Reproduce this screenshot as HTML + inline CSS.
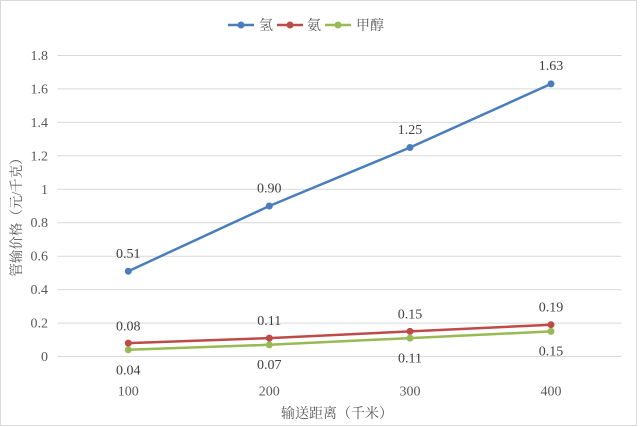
<!DOCTYPE html>
<html><head><meta charset="utf-8"><style>
html,body{margin:0;padding:0;background:#fff;}
svg{display:block;}
</style></head><body>
<svg width="640" height="427" viewBox="0 0 640 427" xmlns="http://www.w3.org/2000/svg">
<rect x="0.5" y="0.5" width="636" height="425" fill="#fff" stroke="#d9d9d9" stroke-width="1"/>
<g stroke="#d9d9d9" stroke-width="1">
<line x1="57.5" y1="55.5" x2="621.5" y2="55.5"/>
<line x1="57.5" y1="88.9" x2="621.5" y2="88.9"/>
<line x1="57.5" y1="122.4" x2="621.5" y2="122.4"/>
<line x1="57.5" y1="155.8" x2="621.5" y2="155.8"/>
<line x1="57.5" y1="189.3" x2="621.5" y2="189.3"/>
<line x1="57.5" y1="222.7" x2="621.5" y2="222.7"/>
<line x1="57.5" y1="256.2" x2="621.5" y2="256.2"/>
<line x1="57.5" y1="289.6" x2="621.5" y2="289.6"/>
<line x1="57.5" y1="323.1" x2="621.5" y2="323.1"/>
<line x1="57.5" y1="356.5" x2="621.5" y2="356.5"/>
</g>
<g font-family="Liberation Serif, serif" font-size="14" fill="#595959" text-anchor="end">
<text x="48" y="60">1.8</text>
<text x="48" y="93.4">1.6</text>
<text x="48" y="126.9">1.4</text>
<text x="48" y="160.3">1.2</text>
<text x="48" y="193.8">1</text>
<text x="48" y="227.2">0.8</text>
<text x="48" y="260.7">0.6</text>
<text x="48" y="294.1">0.4</text>
<text x="48" y="327.6">0.2</text>
<text x="48" y="361">0</text>
</g>
<g font-family="Liberation Serif, serif" font-size="14" fill="#595959" text-anchor="middle">
<text x="128.3" y="395.5">100</text>
<text x="269.3" y="395.5">200</text>
<text x="410" y="395.5">300</text>
<text x="551" y="395.5">400</text>
</g>
<text x="337" y="418" font-family="Liberation Serif, 'Noto Serif CJK SC', serif" font-size="14" fill="#595959" text-anchor="middle">输送距离（千米）</text>
<text transform="translate(21,214) rotate(-90)" font-family="Liberation Serif, 'Noto Serif CJK SC', serif" font-size="13.5" fill="#595959" text-anchor="middle">管输价格（元/千克）</text>
<!-- series -->
<polyline points="128.3,271.2 269.3,206 410,147.5 551,83.9" fill="none" stroke="#4a7ebb" stroke-width="2.5" stroke-linejoin="round"/>
<polyline points="128.3,343.1 269.3,338.1 410,331.4 551,324.7" fill="none" stroke="#be4b48" stroke-width="2.5" stroke-linejoin="round"/>
<polyline points="128.3,349.8 269.3,344.8 410,338.1 551,331.4" fill="none" stroke="#98b954" stroke-width="2.5" stroke-linejoin="round"/>
<g fill="#4a7ebb"><circle cx="128.3" cy="271.2" r="3.5"/><circle cx="269.3" cy="206" r="3.5"/><circle cx="410" cy="147.5" r="3.5"/><circle cx="551" cy="83.9" r="3.5"/></g>
<g fill="#be4b48"><circle cx="128.3" cy="343.1" r="3.5"/><circle cx="269.3" cy="338.1" r="3.5"/><circle cx="410" cy="331.4" r="3.5"/><circle cx="551" cy="324.7" r="3.5"/></g>
<g fill="#98b954"><circle cx="128.3" cy="349.8" r="3.5"/><circle cx="269.3" cy="344.8" r="3.5"/><circle cx="410" cy="338.1" r="3.5"/><circle cx="551" cy="331.4" r="3.5"/></g>
<g font-family="Liberation Serif, serif" font-size="14" fill="#404040" text-anchor="middle">
<text x="128.3" y="258">0.51</text>
<text x="269.3" y="192.5">0.90</text>
<text x="410" y="134">1.25</text>
<text x="551" y="70">1.63</text>
<text x="128.3" y="330.5">0.08</text>
<text x="269.3" y="325">0.11</text>
<text x="410" y="318.5">0.15</text>
<text x="551" y="311.5">0.19</text>
<text x="128.3" y="374.5">0.04</text>
<text x="269.3" y="369">0.07</text>
<text x="410" y="362.5">0.11</text>
<text x="551" y="355.5">0.15</text>
</g>
<!-- legend -->
<line x1="228" y1="25" x2="254" y2="25" stroke="#4a7ebb" stroke-width="2.5"/>
<circle cx="241" cy="25" r="3.5" fill="#4a7ebb"/>
<text x="259" y="30" font-family="Liberation Serif, 'Noto Serif CJK SC', serif" font-size="14" fill="#595959">氢</text>
<line x1="277" y1="25" x2="303" y2="25" stroke="#be4b48" stroke-width="2.5"/>
<circle cx="290" cy="25" r="3.5" fill="#be4b48"/>
<text x="307" y="30" font-family="Liberation Serif, 'Noto Serif CJK SC', serif" font-size="14" fill="#595959">氨</text>
<line x1="325" y1="25" x2="351" y2="25" stroke="#98b954" stroke-width="2.5"/>
<circle cx="338" cy="25" r="3.5" fill="#98b954"/>
<text x="356" y="30" font-family="Liberation Serif, 'Noto Serif CJK SC', serif" font-size="14" fill="#595959">甲醇</text>
</svg>
</body></html>
